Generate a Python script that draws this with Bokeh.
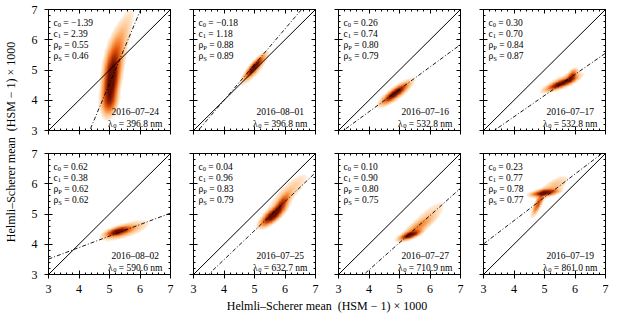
import numpy as np
from math import pi
from bokeh.plotting import figure
from bokeh.layouts import row, column
from bokeh.models import (LinearAxis, SingleIntervalTicker, Label, LinearColorMapper, Range1d,
                          CustomLabelingPolicy)
from bokeh.embed import file_html
from bokeh.resources import INLINE

# ---------------- data ----------------
dates = ["2016–07–24", "2016–08–01", "2016–07–16", "2016–07–17",
         "2016–08–02", "2016–07–25", "2016–07–27", "2016–07–19"]
wavelengths = ["396.8", "396.8", "532.8", "532.8", "590.6", "632.7", "710.9", "861.0"]
c0_vals = [-1.39, -0.18, 0.26, 0.30, 0.62, 0.04, 0.10, 0.23]
c1_vals = [2.39, 1.18, 0.74, 0.70, 0.38, 0.96, 0.90, 0.77]
rho_p = [0.55, 0.88, 0.80, 0.84, 0.62, 0.83, 0.80, 0.78]
rho_s = [0.46, 0.89, 0.79, 0.87, 0.62, 0.79, 0.75, 0.77]
# intercept of the dash-dot fit line in plotted units
fit_intercepts = [-7.40, -0.72, 0.66, 0.655, 2.37, -0.35, -0.45, 1.70]

# density cloud components per panel: (cx, cy, sigma_major, sigma_minor, angle_deg, weight)
cloud_1 = [(5.05, 4.55, 0.50, 0.14, 83, 1.0), (5.15, 5.25, 0.55, 0.17, 80, 0.55),
           (5.45, 6.20, 0.60, 0.16, 72, 0.15), (5.00, 3.95, 0.25, 0.15, 85, 0.35)]
cloud_2 = [(5.00, 5.10, 0.25, 0.06, 50, 1.0), (5.00, 5.05, 0.40, 0.11, 50, 0.25)]
cloud_3 = [(4.85, 4.22, 0.27, 0.07, 37, 1.0), (4.90, 4.25, 0.40, 0.12, 37, 0.3)]
cloud_4 = [(5.55, 4.55, 0.28, 0.06, 22, 1.0), (5.90, 4.80, 0.14, 0.07, 60, 0.6),
           (5.60, 4.60, 0.40, 0.12, 25, 0.25)]
cloud_5 = [(5.28, 4.42, 0.22, 0.07, 15, 1.0), (5.50, 4.45, 0.45, 0.13, 18, 0.3)]
cloud_6 = [(5.60, 4.95, 0.28, 0.10, 40, 1.0), (5.90, 5.35, 0.22, 0.08, 55, 0.5),
           (6.10, 5.70, 0.55, 0.16, 45, 0.15)]
cloud_7 = [(5.35, 4.30, 0.20, 0.06, 20, 1.0), (5.60, 4.55, 0.40, 0.11, 35, 0.3),
           (6.00, 5.00, 0.50, 0.16, 40, 0.10)]
cloud_8 = [(5.00, 5.70, 0.25, 0.06, 8, 1.0), (4.80, 5.35, 0.25, 0.06, 65, 0.6),
           (5.30, 5.90, 0.35, 0.13, 35, 0.2)]
clouds = [cloud_1, cloud_2, cloud_3, cloud_4, cloud_5, cloud_6, cloud_7, cloud_8]

# ---------------- style ----------------
FONT = "Liberation Serif"
AX0, AX1 = 3, 7
NB = "\u00a0"


def hexcol(c):
    return "#%02x%02x%02x" % tuple(int(round(v)) for v in c)


anchors = [(0.0, (255, 238, 220)), (0.15, (253, 204, 155)), (0.35, (250, 145, 65)),
           (0.55, (230, 90, 18)), (0.75, (172, 48, 5)), (1.0, (100, 12, 0))]
palette = []
for k in range(256):
    t = k / 255
    for (t0, c0), (t1, c1) in zip(anchors[:-1], anchors[1:]):
        if t0 <= t <= t1:
            f = (t - t0) / (t1 - t0)
            palette.append(hexcol([a + (b - a) * f for a, b in zip(c0, c1)]))
            break
mapper = LinearColorMapper(palette=palette, low=0.1, high=0.85, high_color=palette[-1],
                           nan_color=(0, 0, 0, 0))

N = 160
g = AX0 + (np.arange(N) + 0.5) * (AX1 - AX0) / N
X, Y = np.meshgrid(g, g)


def density(comps):
    d = np.zeros_like(X)
    for cx, cy, su, sv, ang, w in comps:
        a = np.deg2rad(ang)
        u = (X - cx) * np.cos(a) + (Y - cy) * np.sin(a)
        v = -(X - cx) * np.sin(a) + (Y - cy) * np.cos(a)
        d += w * np.exp(-0.5 * ((u / su) ** 2 + (v / sv) ** 2))
    d = d / d.max()
    d = d ** 0.75
    d[d < 0.1] = np.nan
    return d


EM = {" ": 0.25, NB: 0.25, "=": 0.564, "−": 0.564, ".": 0.25, "n": 0.5, "m": 0.778,
      "c": 0.444, "ρ": 0.5, "λ": 0.55, "P": 0.556, "S": 0.556}


def text_w(s, size):
    return sum(EM.get(ch, 0.5) for ch in s) * size


def fmt(v):
    return ("%.2f" % v).replace("-", "−")


MAIN = 9.5
SUB = 6.5


def lab(p, text, dx, dy, size, ax=AX0, ay=AX1, align="left"):
    p.add_layout(Label(x=ax, y=ay, x_offset=dx, y_offset=dy, text=text,
                       text_font=FONT, text_font_size="%spx" % size, text_color="black",
                       text_align=align, text_baseline="alphabetic"))


def make_axis(labels, tick_out, standoff):
    ax = LinearAxis(ticker=SingleIntervalTicker(interval=1, num_minor_ticks=5),
                    major_tick_in=4, major_tick_out=tick_out,
                    minor_tick_in=2, minor_tick_out=0,
                    axis_line_color="black", major_tick_line_color="black",
                    minor_tick_line_color="black",
                    major_label_text_font=FONT,
                    major_label_text_font_size="12px" if labels else "0px",
                    major_label_text_color="black",
                    major_label_standoff=standoff if labels else 0)
    if not labels:
        ax.major_label_policy = CustomLabelingPolicy(code="return []")
    return ax


def make_panel(i):
    r, c = divmod(i, 4)
    p = figure(frame_width=122, frame_height=121,
               x_range=Range1d(AX0, AX1), y_range=Range1d(AX0, AX1),
               output_backend="svg", toolbar_location=None,
               x_axis_location=None, y_axis_location=None,
               min_border_left=20 if c == 0 else 12,
               min_border_right=12 if c == 3 else 11,
               min_border_top=9 if r == 0 else 12,
               min_border_bottom=11 if r == 0 else 24)
    p.outline_line_color = "black"
    p.background_fill_color = "white"
    p.border_fill_color = "white"
    p.xgrid.visible = False
    p.ygrid.visible = False
    p.add_layout(make_axis(r == 1, 4, 6), "below")
    p.add_layout(make_axis(c == 0, 4, 7), "left")
    p.add_layout(make_axis(False, 0, 0), "above")
    p.add_layout(make_axis(False, 0, 0), "right")

    p.image(image=[density(clouds[i])], x=AX0, y=AX0, dw=AX1 - AX0, dh=AX1 - AX0,
            color_mapper=mapper)

    xs = [AX0, AX1]
    p.line(x=xs, y=xs, line_color="black", line_width=1)
    m, b = c1_vals[i], fit_intercepts[i]
    p.line(x=xs, y=[b + m * x for x in xs], line_color="black", line_width=0.9,
           line_dash="4 2 1 2")

    # top-left statistics
    rows_ = [("c", "0", fmt(c0_vals[i])), ("c", "1", fmt(c1_vals[i])),
             ("ρ", "P", fmt(rho_p[i])), ("ρ", "S", fmt(rho_s[i]))]
    for k, (sym, sub, val) in enumerate(rows_):
        y0 = -(13 + 11.1 * k)
        x0 = 5
        lab(p, sym, x0, y0, MAIN)
        x1 = x0 + text_w(sym, MAIN)
        lab(p, sub, x1, y0 - 2.5, SUB)
        x2 = x1 + text_w(sub, SUB)
        lab(p, NB + "=" + NB + val, x2, y0, MAIN)

    # bottom-right date and wavelength (centred)
    cx = 86.7
    lab(p, dates[i], cx, 18.3, MAIN, ay=AX0, align="center")
    rest = NB + "=" + NB + wavelengths[i] + NB + "nm"
    total = text_w("λ", MAIN) + text_w("0", SUB) + text_w(rest, MAIN)
    x0 = cx - total / 2
    lab(p, "λ", x0, 7, MAIN, ay=AX0)
    x1 = x0 + text_w("λ", MAIN)
    lab(p, "0", x1, 7 - 2.5, SUB, ay=AX0)
    lab(p, rest, x1 + text_w("0", SUB), 7, MAIN, ay=AX0)
    return p


panels = [make_panel(i) for i in range(8)]

TITLE = "Helmli–Scherer mean" + NB + NB + "(HSM" + NB + "−" + NB + "1)" + NB + "×" + NB + "1000"

YH = 9 + 121 + 11 + 12 + 121 + 24
ylab = figure(frame_width=28, frame_height=YH, min_border=0,
              x_range=Range1d(0, 28), y_range=Range1d(0, YH),
              x_axis_location=None, y_axis_location=None,
              toolbar_location=None, output_backend="svg")
ylab.outline_line_color = None
ylab.xgrid.visible = False
ylab.ygrid.visible = False
ylab.add_layout(Label(x=10, y=YH - 141.4, text=TITLE, angle=pi / 2,
                      text_font=FONT, text_font_size="12px", text_color="black",
                      text_align="center", text_baseline="middle"))

XW = 28 + 153 + 145 + 145 + 146
XH = 314 - YH
xlab = figure(frame_width=XW, frame_height=XH, min_border=0,
              x_range=Range1d(0, XW), y_range=Range1d(0, XH),
              x_axis_location=None, y_axis_location=None,
              toolbar_location=None, output_backend="svg")
xlab.outline_line_color = None
xlab.xgrid.visible = False
xlab.ygrid.visible = False
xlab.add_layout(Label(x=326.5, y=XH - (305 - YH), text=TITLE,
                      text_font=FONT, text_font_size="12px", text_color="black",
                      text_align="center", text_baseline="middle"))

grid = column(row(*panels[:4]), row(*panels[4:]))
layout = column(row(ylab, grid), xlab)

open("out.html", "w").write(file_html(layout, INLINE, "HSM comparison"))
